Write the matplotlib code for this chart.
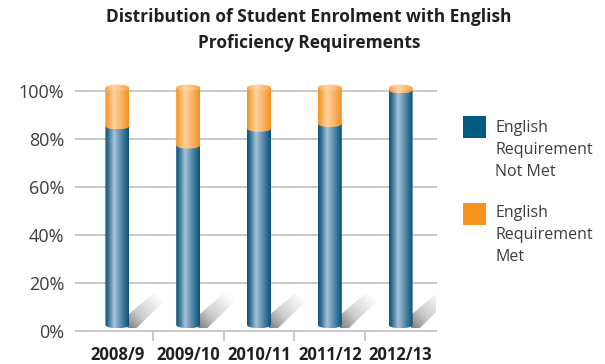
"""Stacked cylinder chart of enrolment split by English proficiency requirement."""

import numpy as np
import matplotlib

matplotlib.use("Agg")
import matplotlib.pyplot as plt
from matplotlib.colors import LinearSegmentedColormap
from matplotlib.patches import PathPatch, Rectangle
from matplotlib.path import Path

years = ["2008/9", "2009/10", "2010/11", "2011/12", "2012/13"]
not_met = [84, 76, 83, 85, 99]
met = [16, 24, 17, 15, 1]
y_ticks = [0, 20, 40, 60, 80, 100]
legend_labels = ["English\nRequirement\nNot Met", "English\nRequirement\nMet"]
title = "Distribution of Student Enrolment with English\nProficiency Requirements"

BLUE = "#005b82"
ORANGE = "#f7941d"
GRID = "#c9c9c9"
TEXT = "#3d3d3d"

plt.rcParams["font.family"] = ["Open Sans", "DejaVu Sans"]

# horizontal shading across each cylinder: dark rim, bright highlight left of centre
stops = [0.0, 0.12, 0.38, 0.72, 1.0]
blue_cmap = LinearSegmentedColormap.from_list(
    "cyl_blue", list(zip(stops, ["#0d5479", "#2f6f95", "#a8c2d6", "#4a82a6", "#0b5276"])))
orange_cmap = LinearSegmentedColormap.from_list(
    "cyl_orange", list(zip(stops, ["#f39323", "#f7a645", "#fdd29f", "#f9b060", "#f29120"])))
cap_cmap = LinearSegmentedColormap.from_list(
    "cyl_cap", list(zip(stops, ["#f8a94c", "#fab867", "#fdd6a6", "#fbbd72", "#f7a445"])))
shadow_cmap = LinearSegmentedColormap.from_list(
    "shadow", [(0, "#7d7d7d"), (0.4, "#cdcdcd"), (1, "#ffffff")])

W, H, DPI = 605, 364, 100
PX_X = 1 / 70.8   # data units per pixel, x
PX_Y = 1 / 2.4    # data units per pixel, y
BAR_W = 24 * PX_X
RY = 3.2 * PX_Y   # half height of the elliptical faces
LIFT = RY         # front edge of each face sits on its value
FOOT = 6 * PX_Y   # foot of the cylinder stands back from the baseline

fig = plt.figure(figsize=(W / DPI, H / DPI), dpi=DPI)
ax = fig.add_axes([76 / W, 33 / H, 360 / W, 252 / H])
XLIM = (-0.5 - 6 * PX_X, 4.5)
YLIM = (0, 105)


def shade(patch, extent, data, cmap, z):
    ax.add_patch(patch)
    im = ax.imshow(data, cmap=cmap, extent=extent, aspect="auto",
                   interpolation="bilinear", zorder=z, origin="lower")
    im.set_clip_path(patch)


def segment(x, y0, y1, cmap, z):
    t = np.linspace(-1, 1, 41)
    xs = x + t * BAR_W / 2
    arc = y0 - RY * np.sqrt(1 - t ** 2)
    verts = [(x - BAR_W / 2, y1)] + list(zip(xs, arc)) + [(x + BAR_W / 2, y1), (x - BAR_W / 2, y1)]
    codes = [Path.MOVETO] + [Path.LINETO] * (len(verts) - 2) + [Path.CLOSEPOLY]
    patch = PathPatch(Path(verts, codes), facecolor="none", edgecolor="none", zorder=z)
    shade(patch, (x - BAR_W / 2, x + BAR_W / 2, y0 - RY, y1),
          np.linspace(0, 1, 64)[None, :], cmap, z)


def cap(x, y, cmap, z):
    t = np.linspace(0, 2 * np.pi, 60)
    verts = np.column_stack([x + np.cos(t) * BAR_W / 2, y + np.sin(t) * RY])
    patch = PathPatch(Path(verts, closed=True), facecolor="none", edgecolor="none", zorder=z)
    shade(patch, (x - BAR_W / 2, x + BAR_W / 2, y - RY, y + RY),
          np.linspace(0, 1, 64)[None, :], cmap, z)


def shadow(x, z):
    # diagonal drop shadow cast to the upper right of the cylinder foot
    x0 = x + BAR_W / 2 - 2 * PX_X
    y0 = FOOT - RY
    offs = [(0, 0), (9, 0), (40, 30), (25, 34), (0, 13)]
    verts = [(x0 + dx * PX_X, y0 + dy * PX_Y) for dx, dy in offs]
    verts.append(verts[0])
    codes = [Path.MOVETO] + [Path.LINETO] * (len(verts) - 2) + [Path.CLOSEPOLY]
    patch = PathPatch(Path(verts, codes), facecolor="none", edgecolor="none", zorder=z)
    gx, gy = np.meshgrid(np.linspace(0, 1, 64), np.linspace(0, 1, 64))
    grad = np.clip((gx * 40 + gy * 34) / 64, 0, 1)
    shade(patch, (x0, x0 + 40 * PX_X, y0, y0 + 34 * PX_Y), grad, shadow_cmap, z)


xs = np.arange(len(years))
for i, x in enumerate(xs):
    shadow(x, 1)
    segment(x, FOOT, not_met[i] + LIFT, blue_cmap, 3)
    top = not_met[i] + met[i]
    segment(x, not_met[i] + LIFT, top + LIFT, orange_cmap, 4)
    cap(x, top + LIFT, cap_cmap, 5)

ax.set_xlim(*XLIM)
ax.set_ylim(*YLIM)

for s in ["top", "right", "left", "bottom"]:
    ax.spines[s].set_visible(False)
for v in y_ticks:
    ax.axhline(v, color=GRID, lw=1.4, zorder=0, clip_on=False)

ax.set_yticks(y_ticks)
ax.set_yticklabels([f"{v}%" for v in y_ticks])
ax.tick_params(axis="y", length=0, pad=8.5, labelsize=13, labelcolor=TEXT)

ax.set_xticks(xs)
ax.set_xticklabels(years, fontweight="bold")
ax.set_xticks(xs[:-1] + 0.5, minor=True)
ax.tick_params(axis="x", which="major", length=0, pad=11, labelsize=12, labelcolor="#231f20")
ax.tick_params(axis="x", which="minor", length=7, width=1.4, color=GRID, direction="out")

fig.text(309 / W, 1 - 30 / H, title, ha="center", va="center", fontsize=12.5,
         fontweight="bold", color="#231f20", linespacing=1.55)

for (y_sq, y_txt), label, color in zip([(116, 150), (203, 235)], legend_labels, [BLUE, ORANGE]):
    fig.patches.append(Rectangle((463 / W, 1 - (y_sq + 22) / H), 23 / W, 22 / H,
                                 transform=fig.transFigure, facecolor=color, edgecolor="none"))
    fig.text(495 / W, 1 - y_txt / H, label, ha="left", va="center", fontsize=11.5,
             color=TEXT, linespacing=1.48)

fig.savefig("out.png", dpi=DPI)
